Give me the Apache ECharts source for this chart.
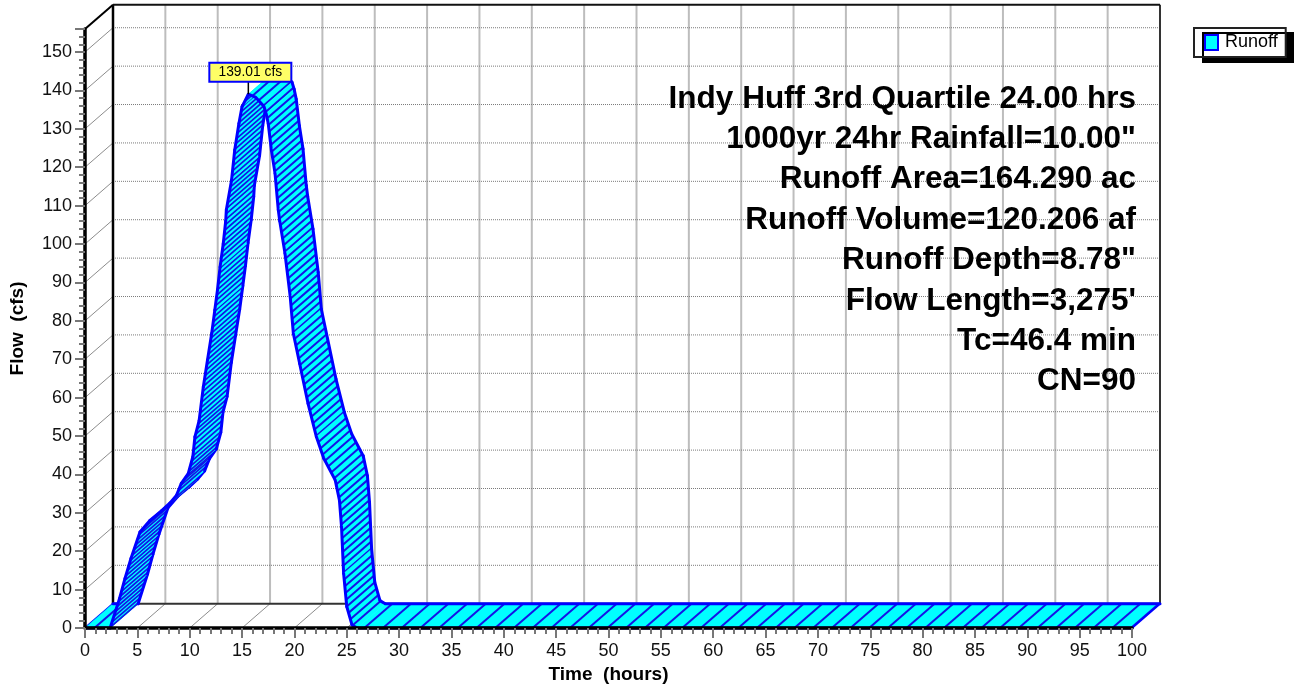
<!DOCTYPE html>
<html><head><meta charset="utf-8">
<style>html,body{margin:0;padding:0;background:#fff}#c{width:1294px;height:686px}</style>
<script src="https://cdn.jsdelivr.net/npm/echarts@6/dist/echarts.min.js"></script>
</head><body><div id="c"></div>
<script>
const timeHours = [0,2.4,3.3,3.82,4.39,5.25,6.2,7.3,8.1,8.75,9.2,9.87,10.3,10.5,10.9,11.3,11.7,12.1,12.4,12.65,12.9,13.2,13.44,13.5,14,14.3,14.7,15,15.6,16.3,17.1,17.3,17.5,17.8,18.15,18.46,18.6,19.1,19.6,19.9,20.5,21.3,22.1,22.8,23.9,24.3,24.5,24.7,25,25.5,26,100];
const flowCfs   = [0,0,7.7,12.9,18.1,25,28,30.5,32.5,34.6,37.7,40.3,44.6,49.8,54,62.8,69.8,76.7,82.8,88,94,100,106,108.9,116.7,124.5,131.4,135.8,139.01,138.2,135.8,134,131.4,124.5,118.4,108.9,106,97.6,86.3,76.7,68.9,58.5,49.8,44.2,38.5,33.3,26.4,14.2,5.6,0.8,0,0];
const xTicks = [0,5,10,15,20,25,30,35,40,45,50,55,60,65,70,75,80,85,90,95,100];
const yTicks = [0,10,20,30,40,50,60,70,80,90,100,110,120,130,140,150];
const peakTime = 15.6, peakFlow = 139.01;
const noteLines = ['Indy Huff 3rd Quartile 24.00 hrs','1000yr 24hr Rainfall=10.00"','Runoff Area=164.290 ac','Runoff Volume=120.206 af','Runoff Depth=8.78"',"Flow Length=3,275'",'Tc=46.4 min','CN=90'];
const depthT = 2.674, depthQ = 6.33, xMax = 100, yMax = 156;

function line(a,b,style){return {type:'line',silent:true,shape:{x1:a[0],y1:a[1],x2:b[0],y2:b[1]},style};}

function renderWall(params, api){
  const c = (t,q)=>api.coord([t,q]);
  const back = (t,q)=>c(t+depthT,q+depthQ);
  const kids = [];
  const dot = {stroke:'#7a7a7a',lineWidth:1,lineDash:[1,1]};
  const diag = {stroke:'#8c8c8c',lineWidth:1};
  const vert = {stroke:'#bdbdbd',lineWidth:2};
  xTicks.forEach(t=>{
    if(t>0 && t<xMax) kids.push(line(back(t,0),back(t,yMax),vert));
    if(t>0 && t<xMax) kids.push(line(c(t,0),back(t,0),diag));
  });
  yTicks.forEach(q=>{
    if(q>0){ kids.push(line(back(0,q),back(xMax,q),dot));
    kids.push(line(c(0,q),back(0,q),diag)); }
  });
  kids.push(line(back(0,0),back(xMax,0),{stroke:'#333',lineWidth:2}));
  kids.push(line(back(xMax,0),back(xMax,yMax),{stroke:'#333',lineWidth:2}));
  kids.push(line(back(0,0),back(0,yMax),{stroke:'#000',lineWidth:2.5}));
  kids.push(line(back(0,yMax),back(xMax,yMax),{stroke:'#111',lineWidth:2}));
  kids.push(line(c(0,yMax),back(0,yMax),{stroke:'#000',lineWidth:2}));
  return {type:'group',children:kids};
}

function renderRibbon(params, api){
  const f = timeHours.map((t,i)=>api.coord([t,flowCfs[i]]));
  const b = timeHours.map((t,i)=>api.coord([t+depthT,flowCfs[i]+depthQ]));
  const dx = b[0][0]-f[0][0], dy = b[0][1]-f[0][1];
  const fallHatch = {stroke:'#1414e6',lineWidth:2};
  const riseHatch = {stroke:'#1414e6',lineWidth:1.7};
  const kids = [];
  const edge = {stroke:'#0000ff',lineWidth:3,lineJoin:'round',lineCap:'round'};
  const last = f.length-1;
  kids.push(line(f[0],b[0],{stroke:'#0000ff',lineWidth:2}));
  let walked = 0.5;
  for(let i=0;i<last;i++){
    const w = Math.abs(f[i+1][0]-f[i][0]), h = Math.abs(f[i+1][1]-f[i][1]);
    const rising = flowCfs[i+1]>flowCfs[i];
    const total = w/18.7 + h/(rising?5.6:7);
    kids.push({type:'polygon',silent:true,shape:{points:[f[i],f[i+1],b[i+1],b[i]]},style:{fill:'#00ffff',stroke:'#00ffff',lineWidth:0.6}});
    let next = Math.ceil(walked);
    while(next < walked+total){
      const u = (next-walked)/total;
      const p = [f[i][0]+u*(f[i+1][0]-f[i][0]), f[i][1]+u*(f[i+1][1]-f[i][1])];
      kids.push(line(p,[p[0]+dx,p[1]+dy],rising?riseHatch:fallHatch));
      next++;
    }
    walked += total;
    kids.push(line(f[i],f[i+1],edge));
    kids.push(line(b[i],b[i+1],edge));
  }
  kids.push(line(f[last],b[last],{stroke:'#0000ff',lineWidth:2}));
  return {type:'group',children:kids};
}

function renderPeak(params, api){
  const p = api.coord([api.value(0),api.value(1)]);
  const w=82,h=19, left=p[0]-39, top=p[1]-31.5;
  return {type:'group',children:[
    line([p[0],p[1]],[p[0],top+h],{stroke:'#000',lineWidth:1.5}),
    {type:'rect',silent:true,shape:{x:left,y:top,width:w,height:h},style:{fill:'#ffff66',stroke:'#0000ff',lineWidth:2}},
    {type:'text',silent:true,style:{x:left+w/2,y:top+h/2,text:peakFlow.toFixed(2)+' cfs',fill:'#000',align:'center',verticalAlign:'middle',font:'13.8px "Liberation Sans"'}}
  ]};
}

const chart = echarts.init(document.getElementById('c'),null,{renderer:'canvas'});
const fontFam = '"Liberation Sans"';
chart.setOption({
  animation:false,
  backgroundColor:'#fff',
  textStyle:{fontFamily:fontFam},
  grid:{left:85,right:162,top:29,bottom:58,containLabel:false,outerBoundsMode:'none'},
  legend:{
    left:1194,top:28,orient:'horizontal',padding:[4,8,4,10],itemWidth:13,itemHeight:15,itemGap:0,
    backgroundColor:'#fff',borderColor:'#222',borderWidth:2,borderRadius:0,
    shadowColor:'#000',shadowBlur:0,shadowOffsetX:9,shadowOffsetY:5,
    selectedMode:false,
    textStyle:{fontSize:18,lineHeight:19,color:'#000',fontFamily:fontFam,padding:[2,0,0,2]},
    data:[{name:'Runoff',icon:'rect',itemStyle:{color:'#00ffff',borderColor:'#0000ff',borderWidth:2}}]
  },
  xAxis:{type:'value',min:0,max:xMax,interval:5,z:10,
    name:'Time  (hours)',nameLocation:'middle',nameGap:36,
    nameTextStyle:{fontSize:19,fontWeight:'bold',color:'#000',fontFamily:fontFam},
    axisLine:{show:true,lineStyle:{color:'#000',width:3.5}},
    axisTick:{show:true,length:10,lineStyle:{color:'#777',width:2}},
    minorTick:{show:true,splitNumber:5,length:6,lineStyle:{color:'#777',width:2}},
    splitLine:{show:false},
    axisLabel:{fontSize:18,color:'#111',margin:14,fontFamily:fontFam,hideOverlap:false}},
  yAxis:{type:'value',min:0,max:yMax,interval:10,z:10,
    name:'Flow  (cfs)',nameLocation:'middle',nameGap:58,
    nameTextStyle:{fontSize:19,fontWeight:'bold',color:'#000',fontFamily:fontFam},
    axisLine:{show:true,onZero:false,lineStyle:{color:'#000',width:3.5}},
    axisTick:{show:true,length:10,lineStyle:{color:'#777',width:2}},
    minorTick:{show:true,splitNumber:5,length:6,lineStyle:{color:'#777',width:2}},
    splitLine:{show:false},
    axisLabel:{fontSize:18,color:'#111',margin:13,fontFamily:fontFam,showMaxLabel:false}},
  graphic:noteLines.map((s,i)=>({type:'text',z:5,silent:true,right:158,top:83+i*40.4,
    style:{text:s,fill:'#000',font:'bold 31.5px '+fontFam,align:'right'}})),
  series:[
    {type:'custom',name:'Wall',z:1,silent:true,renderItem:renderWall,data:[[0,0]],encode:{x:0,y:1}},
    {type:'custom',name:'Runoff',z:2,silent:true,renderItem:renderRibbon,data:[[timeHours[0],flowCfs[0]]],encode:{x:0,y:1}},
    {type:'custom',name:'Peak',z:6,silent:true,renderItem:renderPeak,data:[[peakTime,peakFlow]],encode:{x:0,y:1}}
  ]
});
</script></body></html>
